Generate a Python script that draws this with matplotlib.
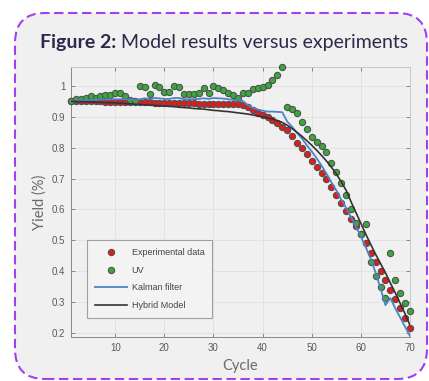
import numpy as np
import matplotlib
matplotlib.use("Agg")
import matplotlib.pyplot as plt
from matplotlib.patches import FancyBboxPatch


# data (one value per cycle)
cycles = np.arange(1, 71)

experimental = [
    0.952, 0.951, 0.951, 0.950, 0.950, 0.950, 0.950, 0.949, 0.949, 0.949,
    0.948, 0.948, 0.948, 0.948, 0.947, 0.947, 0.947, 0.946, 0.946, 0.946,
    0.945, 0.945, 0.945, 0.944, 0.944, 0.944, 0.943, 0.943, 0.943, 0.942,
    0.942, 0.942, 0.941, 0.941, 0.940, 0.938, 0.932, 0.922, 0.913, 0.906,
    0.900, 0.890, 0.880, 0.867, 0.856, 0.838, 0.816, 0.800, 0.780, 0.757,
    0.738, 0.718, 0.698, 0.672, 0.647, 0.620, 0.595, 0.570, 0.545, 0.520,
    0.490, 0.460, 0.430, 0.400, 0.370, 0.340, 0.310, 0.280, 0.250, 0.215,
]

uv = [
    0.950, 0.958, 0.958, 0.960, 0.966, 0.960, 0.967, 0.970, 0.970, 0.978,
    0.978, 0.967, 0.954, 0.952, 1.000, 0.998, 0.974, 1.004, 0.996, 0.982,
    0.981, 0.999, 0.998, 0.974, 0.974, 0.974, 0.976, 0.992, 0.976, 1.000,
    0.992, 0.986, 0.978, 0.970, 0.961, 0.976, 0.976, 0.990, 0.992, 0.996,
    1.003, 1.020, 1.036, 1.060, 0.932, 0.927, 0.912, 0.884, 0.860, 0.834,
    0.820, 0.804, 0.786, 0.752, 0.720, 0.686, 0.647, 0.602, 0.556, 0.520,
    0.552, 0.430, 0.385, 0.350, 0.313, 0.460, 0.372, 0.330, 0.297, 0.272,
]

kalman = [
    0.950, 0.953, 0.954, 0.955, 0.955, 0.955, 0.956, 0.956, 0.957, 0.957,
    0.957, 0.957, 0.956, 0.955, 0.957, 0.960, 0.958, 0.961, 0.960, 0.958,
    0.958, 0.961, 0.961, 0.957, 0.957, 0.957, 0.958, 0.960, 0.958, 0.961,
    0.960, 0.959, 0.957, 0.955, 0.953, 0.951, 0.938, 0.929, 0.924, 0.920,
    0.917, 0.917, 0.916, 0.915, 0.885, 0.868, 0.848, 0.830, 0.808, 0.788,
    0.766, 0.742, 0.716, 0.688, 0.662, 0.632, 0.605, 0.575, 0.545, 0.512,
    0.478, 0.440, 0.395, 0.345, 0.290, 0.313, 0.280, 0.250, 0.220, 0.190,
]

hybrid = [
    0.950, 0.950, 0.949, 0.949, 0.948, 0.948, 0.947, 0.946, 0.946, 0.945,
    0.944, 0.943, 0.942, 0.941, 0.940, 0.939, 0.938, 0.937, 0.936, 0.935,
    0.934, 0.933, 0.931, 0.930, 0.929, 0.927, 0.926, 0.925, 0.923, 0.921,
    0.920, 0.918, 0.917, 0.915, 0.913, 0.911, 0.909, 0.906, 0.903, 0.900,
    0.897, 0.893, 0.888, 0.882, 0.873, 0.862, 0.850, 0.837, 0.823, 0.808,
    0.792, 0.775, 0.757, 0.737, 0.715, 0.690, 0.662, 0.625, 0.590, 0.555,
    0.520, 0.487, 0.455, 0.425, 0.395, 0.362, 0.330, 0.296, 0.262, 0.225,
]

x_ticks = [10, 20, 30, 40, 50, 60, 70]
y_ticks = [0.2, 0.3, 0.4, 0.5, 0.6, 0.7, 0.8, 0.9, 1.0]
y_tick_labels = ["0.2", "0.3", "0.4", "0.5", "0.6", "0.7", "0.8", "0.9", "1"]

PANEL_BG = "#f0f0f0"
PURPLE = "#a040f0"
TITLE_COLOR = "#2b2a4c"
LABEL_COLOR = "#6a6a6a"
TICK_COLOR = "#5a5a5a"

plt.rcParams["font.family"] = ["Liberation Sans", "DejaVu Sans"]

fig = plt.figure(figsize=(4.29, 3.81), dpi=100)
fig.patch.set_facecolor("white")

# rounded dashed panel behind everything (inches)
panel = FancyBboxPatch(
    (0.15, 0.02), 4.12, 3.66,
    boxstyle="round,pad=0,rounding_size=0.3",
    transform=fig.dpi_scale_trans,
    facecolor=PANEL_BG, edgecolor=PURPLE,
    linewidth=1.5, linestyle=(0, (4.5, 2.2)),
    zorder=-5,
)
fig.patches.append(panel)

ax = fig.add_axes([0.1655, 0.1155, 0.7902, 0.7087])
ax.set_facecolor(PANEL_BG)

ax.plot(cycles, experimental, "o", color="#e41a1c", markeredgecolor="#505050",
        markeredgewidth=0.8, markersize=4.5, label="Experimental data",
        clip_on=False, zorder=3)
ax.plot(cycles, uv, "o", color="#3aa83a", markeredgecolor="#505050",
        markeredgewidth=0.8, markersize=4.5, label="UV",
        clip_on=False, zorder=3)
ax.plot(cycles, kalman, color="#4a84c6", linewidth=1.3, label="Kalman filter", zorder=4)
ax.plot(cycles, hybrid, color="#333333", linewidth=1.2, label="Hybrid Model", zorder=4)

ax.set_xlim(1, 70)
ax.set_ylim(0.187, 1.0615)
ax.set_xticks(x_ticks)
ax.set_yticks(y_ticks)
ax.set_yticklabels(y_tick_labels)

ax.grid(True, color="#e0e0e0", linewidth=0.6)
ax.set_axisbelow(True)
ax.tick_params(direction="in", top=True, right=True, length=3, width=0.6,
               color="#777777", labelsize=7, labelcolor=TICK_COLOR, pad=4)
for name, sp in ax.spines.items():
    sp.set_color("#888888" if name in ("left", "bottom") else "#c8c8c8")
    sp.set_linewidth(0.7)

ax.set_xlabel("Cycle", fontsize=10.5, color=LABEL_COLOR, family="Lato", labelpad=5)
ax.set_ylabel("Yield (%)", fontsize=10.5, color=LABEL_COLOR, family="Lato", labelpad=4)

leg = ax.legend(loc="lower left", bbox_to_anchor=(0.047, 0.07), fontsize=6.5,
                frameon=True, fancybox=False, framealpha=1, edgecolor="#a0a0a0",
                facecolor="#f3f3f3", handlelength=3.5, handletextpad=0.55,
                labelspacing=0.95, borderpad=0.9, borderaxespad=0)
leg.get_frame().set_linewidth(0.8)
for t in leg.get_texts():
    t.set_color("#444444")

t1 = fig.text(0.093, 0.889, "Figure 2:", fontsize=14, fontweight="bold",
              color=TITLE_COLOR, family="Lato", va="center")
ax.annotate(" Model results versus experiments", xy=(1, 0.5), xycoords=t1,
            va="center", ha="left", fontsize=14, color=TITLE_COLOR,
            family="Lato", annotation_clip=False)

fig.savefig("out.png", dpi=100, facecolor=fig.get_facecolor())
